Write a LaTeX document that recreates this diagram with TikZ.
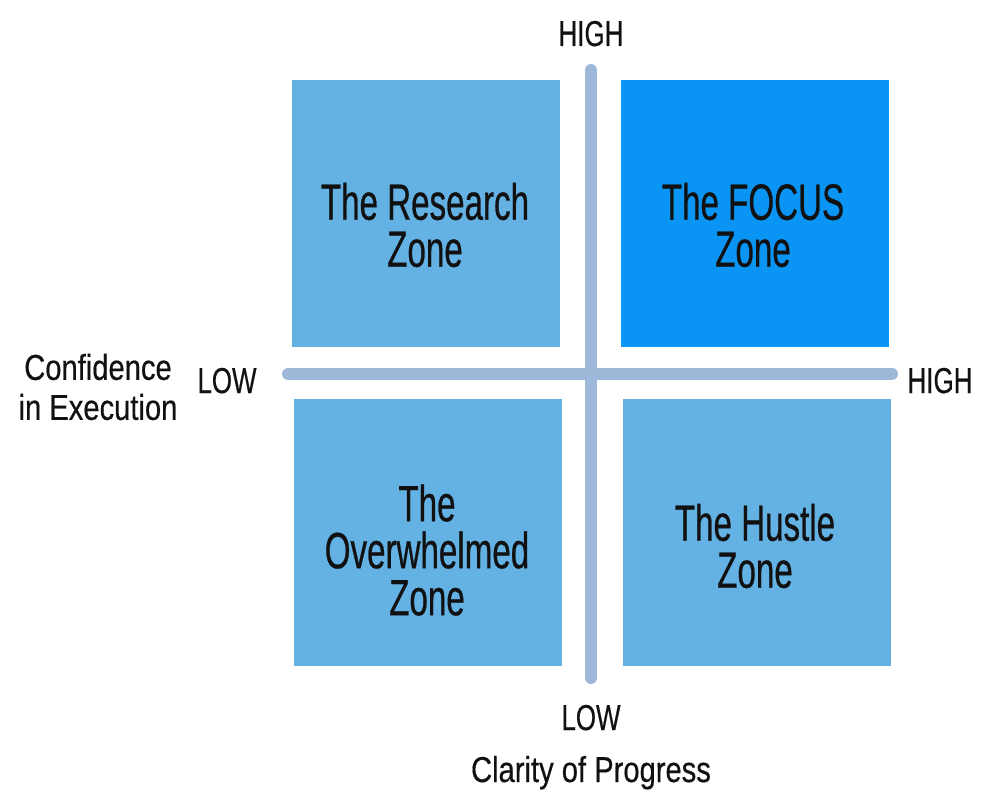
\documentclass[tikz,border=0pt]{standalone}
\usepackage{fontspec}
\setmainfont{Liberation Sans}[FakeStretch=0.72,FakeBold=0.4]
\newfontfamily\bigfont{Liberation Sans}[FakeStretch=0.65,FakeBold=0.5]
\newfontfamily\wordfont{Liberation Sans}[FakeStretch=0.81,FakeBold=0.4]
\definecolor{zone}{HTML}{64B1E3}
\definecolor{focus}{HTML}{0A95F5}
\definecolor{axis}{HTML}{9DB8D9}
\definecolor{ink}{HTML}{111111}
\begin{document}
\begin{tikzpicture}[x=1pt,y=-1pt,
  zonebox/.style={fill=zone,draw=none,minimum width=268pt,minimum height=267pt,inner sep=0pt},
  zonetext/.style={text=ink,align=center,font=\bigfont\fontsize{51}{47}\selectfont,inner sep=0pt},
  axislbl/.style={text=ink,align=center,font=\fontsize{36}{40}\selectfont,inner sep=0pt},
  wordlbl/.style={axislbl,font=\wordfont\fontsize{36}{40}\selectfont},
  axisline/.style={draw=axis,line width=12pt,line cap=round}]
\useasboundingbox (0,0) rectangle (992,797);
% boxes
\node[zonebox] (research) at (426,213.5) {};
\node[zonebox,fill=focus] (focusb) at (754.5,213.5) {};
\node[zonebox] (over) at (427.5,532.5) {};
\node[zonebox] (hustle) at (756.5,532.5) {};
% axes
\coordinate (vtop) at (591,70);
\coordinate (vbot) at (591,678);
\coordinate (hl) at (288,374);
\coordinate (hr) at (892,374);
\draw[axisline] (vtop) -- (vbot);
\draw[axisline] (hl) -- (hr);
% box texts
\node[zonetext] (tr) at (425,225) {The Research\\Zone};
\node[zonetext] (tf) at (753,225) {The FOCUS\\Zone};
\node[zonetext] (to) at (427,550) {The\\Overwhelmed\\Zone};
\node[zonetext] (th) at (755,546) {The Hustle\\Zone};
% axis labels
\node[axislbl,anchor=base] (hightop) at (591,46) {HIGH};
\node[axislbl,anchor=base] (lowbot) at (591,730) {LOW};
\node[wordlbl,anchor=base] (clarity) at (591,782) {Clarity of Progress};
\node[axislbl,anchor=base] (lowleft) at (227,393) {LOW};
\node[axislbl,anchor=base] (highright) at (940,393) {HIGH};
\node[wordlbl] (conf) at (98,387) {Confidence\\in Execution};
\end{tikzpicture}
\end{document}
